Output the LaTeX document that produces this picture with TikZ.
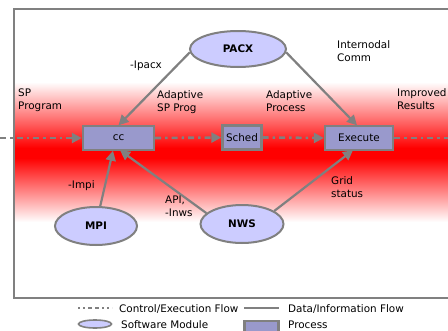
\documentclass[tikz,border=0pt]{standalone}
\usepackage{fontspec}
\setmainfont{DejaVu Sans}
\usetikzlibrary{arrows.meta,shapes.geometric}
\definecolor{edgegray}{HTML}{808080}
\definecolor{procfill}{HTML}{9999CC}
\definecolor{modfill}{HTML}{CCCCFF}
\begin{document}
\begin{tikzpicture}[x=1pt,y=-1pt,
  font=\fontsize{10.4}{13}\selectfont,
  proc/.style={draw=edgegray,line width=2.4pt,fill=procfill,rectangle,inner sep=0pt},
  module/.style={draw=edgegray,line width=2pt,fill=modfill,ellipse,inner sep=0pt,font=\fontsize{10.4}{13}\selectfont\bfseries},
  data/.style={draw=edgegray,line width=2.2pt,-{Triangle[length=10pt,width=10pt]}},
  ctrl/.style={draw=edgegray,line width=2.6pt,dash pattern=on 6pt off 4pt on 2.5pt off 4pt,-{Triangle[length=10pt,width=10pt]}},
  lbl/.style={align=left,inner sep=0pt,anchor=base west}]
\clip (0,0) rectangle (448,330);
\fill[white] (0,0) rectangle (448,330);
% red band
\shade[top color=white,bottom color=red] (14,82) rectangle (460,148);
\fill[red] (14,147.5) rectangle (460,158.5);
\shade[top color=red,bottom color=white] (14,158) rectangle (460,222);
% frame
\draw[edgegray,line width=2.4pt] (470,9) -- (14,9) -- (14,298) -- (470,298);
% nodes
\node[module,minimum width=96pt,minimum height=36pt] (pacx) at (238,49) {PACX};
\node[proc,minimum width=71pt,minimum height=24pt] (cc) at (118.5,138) {cc};
\node[proc,minimum width=39pt,minimum height=24pt] (sched) at (242,137.5) {Sched};
\node[proc,minimum width=68pt,minimum height=24pt] (execute) at (359,138) {Execute};
\node[module,minimum width=82pt,minimum height=38pt] (mpi) at (96,226) {MPI};
\node[module,minimum width=83pt,minimum height=38pt] (nws) at (242,224) {NWS};
\coordinate (inL) at (0,138);
\coordinate (outR) at (452,138);
% control flow
\draw[ctrl] (inL) -- (cc.west);
\draw[ctrl] (cc.east) -- (sched.west);
\draw[ctrl] (sched.east) -- (execute.west);
\draw[ctrl,-] (execute.east) -- (outR);
% data flow
\draw[data] (pacx.184) -- ([yshift=-0.5pt]cc.north);
\draw[data] (pacx.-4) -- ([xshift=-2pt,yshift=-0.5pt]execute.north);
\draw[data] (mpi.78) -- ([xshift=-5.5pt,yshift=0.5pt]cc.south);
\draw[data] (nws.163) -- ([xshift=1.5pt,yshift=1pt]cc.south);
\draw[data] (nws.22) -- ([xshift=-6pt,yshift=1pt]execute.south);
% labels
\node[lbl] (lsp) at (18,109) {SP\\Program};
\node[lbl] (lasp) at (157,111) {Adaptive\\SP Prog};
\node[lbl] (lap) at (266,111) {Adaptive\\Process};
\node[lbl] (limp) at (397,109) {Improved\\Results};
\node[lbl] (lint) at (337,61) {Internodal\\Comm};
\node[lbl] (lpacx) at (130,68) {-Ipacx};
\node[lbl] (lmpi) at (68,188) {-Impi};
\node[lbl] (lapi) at (165,216) {API,\\-Inws};
\node[lbl] (lgrid) at (331,197) {Grid\\status};
% legend
\coordinate (lg1a) at (78,308); \coordinate (lg1b) at (112,308);
\draw[edgegray,line width=1.4pt,dash pattern=on 2pt off 3pt on 2pt off 3pt on 4pt off 3pt on 4pt off 3pt] (lg1a) -- (lg1b);
\node[lbl] (lgt1) at (119,312.5) {Control/Execution Flow};
\coordinate (lg2a) at (244,308); \coordinate (lg2b) at (279,308);
\draw[edgegray,line width=1.8pt] (lg2a) -- (lg2b);
\node[lbl] (lgt2) at (288,312.5) {Data/Information Flow};
\node[module,minimum width=33pt,minimum height=8pt,line width=1.6pt] (lgmod) at (95,324) {};
\node[lbl] (lgt3) at (121,328) {Software Module};
\node[proc,minimum width=34pt,minimum height=16pt] (lgproc) at (261.5,329) {};
\node[lbl] (lgt4) at (288,328) {Process};
\end{tikzpicture}
\end{document}
